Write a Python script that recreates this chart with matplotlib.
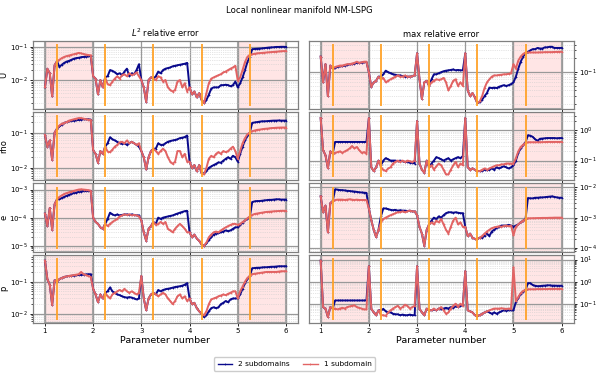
import numpy as np
import matplotlib
matplotlib.use("Agg")
import matplotlib.pyplot as plt
from matplotlib.lines import Line2D

N = None  # blue point hidden under the red one (same value)

# parameter number grid (5 sweeps, 20 samples each + end point)
param = np.linspace(1, 6, 101)
switch_params = [1.25, 2.25, 3.25, 4.25, 5.25]
shaded = [(1, 2), (5, 6)]
var_names = ["U", "rho", "e", "p"]
col_titles = ["$L^2$ relative error", "max relative error"]

# ---- L2 relative error ----
u_l2_one = [0.006, 0.022, 0.016, 0.0032, 0.028, 0.037, 0.041, 0.046, 0.050, 0.053, 0.055, 0.058, 0.060, 0.063, 0.066, 0.064, 0.061, 0.059, 0.057, 0.056,
            0.013, 0.011, 0.0037, 0.010, 0.006, 0.012, 0.0075, 0.007, 0.009, 0.011, 0.013, 0.011, 0.014, 0.015, 0.013, 0.016, 0.014, 0.015, 0.017, 0.013,
            0.010, 0.006, 0.0022, 0.010, 0.012, 0.011, 0.010, 0.013, 0.012, 0.009, 0.010, 0.006, 0.005, 0.0045, 0.005, 0.009, 0.010, 0.006, 0.008, 0.0045,
            0.006, 0.0037, 0.0045, 0.003, 0.004, 0.0025, 0.002, 0.004, 0.008, 0.011, 0.012, 0.013, 0.014, 0.015, 0.017, 0.018, 0.020, 0.022, 0.024, 0.027,
            0.0096, 0.012, 0.020, 0.035, 0.050, 0.058, 0.060, 0.062, 0.064, 0.065, 0.066, 0.067, 0.068, 0.069, 0.070, 0.071, 0.072, 0.073, 0.074, 0.075, 0.075]
u_l2_two = [N, N, N, N, N, N, 0.025, 0.029, 0.033, 0.036, 0.038, 0.041, 0.044, 0.046, 0.047, 0.049, 0.050, 0.051, 0.052, 0.053,
            N, N, N, N, N, 0.012, 0.013, 0.020, 0.019, 0.017, 0.015, 0.016, 0.014, 0.018, 0.022, 0.013, 0.016, 0.015, 0.020, 0.030,
            N, N, N, N, N, N, 0.013, 0.018, 0.016, 0.020, 0.022, 0.023, 0.024, 0.026, 0.027, 0.028, 0.029, 0.030, 0.031, 0.033,
            N, N, N, N, N, N, 0.002, 0.0025, 0.0036, 0.0055, 0.006, 0.006, 0.006, 0.007, 0.007, 0.0072, 0.007, 0.0065, 0.007, 0.009,
            0.006, 0.008, 0.012, 0.020, 0.035, 0.050, 0.085, 0.087, 0.088, 0.089, 0.090, 0.092, 0.094, 0.096, 0.097, 0.098, 0.100, 0.100, 0.101, 0.101, 0.100]

rho_l2_one = [0.087, 0.04, 0.06, 0.017, 0.10, 0.13, 0.16, 0.18, 0.19, 0.20, 0.22, 0.23, 0.24, 0.25, 0.26, 0.26, 0.25, 0.24, 0.235, 0.23,
              0.032, 0.025, 0.014, 0.030, 0.025, 0.040, 0.029, 0.028, 0.033, 0.040, 0.045, 0.053, 0.055, 0.050, 0.060, 0.050, 0.055, 0.050, 0.045, 0.050,
              0.030, 0.020, 0.009, 0.020, 0.030, 0.035, 0.030, 0.025, 0.030, 0.035, 0.030, 0.020, 0.015, 0.013, 0.015, 0.030, 0.030, 0.020, 0.025, 0.015,
              0.015, 0.010, 0.012, 0.008, 0.012, 0.007, 0.0065, 0.010, 0.018, 0.022, 0.020, 0.025, 0.028, 0.025, 0.030, 0.028, 0.030, 0.035, 0.040, 0.030,
              0.018, 0.030, 0.050, 0.070, 0.090, 0.100, 0.110, 0.115, 0.120, 0.122, 0.125, 0.128, 0.130, 0.132, 0.135, 0.136, 0.138, 0.139, 0.140, 0.140, 0.140]
rho_l2_two = [N, N, N, N, N, N, 0.15, 0.17, 0.19, 0.20, 0.21, 0.215, 0.22, 0.225, 0.23, 0.235, 0.24, 0.24, 0.24, 0.235,
              N, N, N, N, N, 0.040, 0.050, 0.074, 0.065, 0.060, 0.055, 0.050, 0.048, 0.050, 0.045, 0.050, 0.055, 0.050, 0.045, 0.040,
              N, N, N, N, N, N, 0.035, 0.050, 0.045, 0.045, 0.050, 0.055, 0.058, 0.060, 0.062, 0.065, 0.070, 0.072, 0.075, 0.083,
              N, N, N, N, N, N, 0.007, 0.008, 0.010, 0.011, 0.012, 0.013, 0.0143, 0.014, 0.016, 0.018, 0.020, 0.018, 0.022, 0.020,
              0.015, 0.025, 0.040, 0.060, 0.080, 0.100, 0.190, 0.195, 0.200, 0.205, 0.210, 0.210, 0.212, 0.215, 0.218, 0.220, 0.220, 0.222, 0.220, 0.220, 0.220]

e_l2_one = [1.4e-4, 5e-5, 2.2e-4, 3.7e-5, 3.0e-4, 4.5e-4, 5.5e-4, 6.2e-4, 7.0e-4, 7.5e-4, 8.0e-4, 8.5e-4, 9.0e-4, 9.5e-4, 1.0e-3, 1.02e-3, 1.0e-3, 9.8e-4, 9.5e-4, 9.0e-4,
            1.0e-4, 7e-5, 6e-5, 4.5e-5, 4e-5, 6e-5, 5e-5, 6e-5, 7e-5, 8e-5, 9e-5, 1.1e-4, 1.2e-4, 1.3e-4, 1.25e-4, 1.3e-4, 1.2e-4, 1.25e-4, 1.2e-4, 1.1e-4,
            8e-5, 3e-5, 1.5e-5, 4e-5, 5e-5, 7e-5, 5.5e-5, 6e-5, 7e-5, 6e-5, 7e-5, 4e-5, 3.5e-5, 3e-5, 4e-5, 5e-5, 6e-5, 5e-5, 4e-5, 3e-5,
            3e-5, 2e-5, 2.5e-5, 1.8e-5, 1.5e-5, 1.1e-5, 1.0e-5, 1.3e-5, 2e-5, 2.5e-5, 3e-5, 3.2e-5, 3e-5, 3.5e-5, 4e-5, 4.5e-5, 5e-5, 5.5e-5, 6e-5, 6e-5,
            5.5e-5, 6e-5, 7e-5, 8e-5, 9.5e-5, 1.1e-4, 1.25e-4, 1.35e-4, 1.4e-4, 1.45e-4, 1.5e-4, 1.55e-4, 1.6e-4, 1.62e-4, 1.65e-4, 1.68e-4, 1.7e-4, 1.72e-4, 1.75e-4, 1.75e-4, 1.75e-4]
e_l2_two = [N, N, N, N, N, N, 4.5e-4, 5e-4, 5.5e-4, 6e-4, 6.5e-4, 7e-4, 7.5e-4, 7.8e-4, 8.2e-4, 8.5e-4, 8.8e-4, 8.9e-4, 9e-4, 9e-4,
            N, N, N, N, N, 6e-5, 9e-5, 1.5e-4, 1.3e-4, 1.2e-4, 1.3e-4, 1.2e-4, 1.25e-4, 1.3e-4, 1.3e-4, 1.25e-4, 1.3e-4, 1.25e-4, 1.2e-4, 1.2e-4,
            N, N, N, N, N, N, 6e-5, 1e-4, 9e-5, 1e-4, 1.05e-4, 1.1e-4, 1.15e-4, 1.2e-4, 1.3e-4, 1.4e-4, 1.5e-4, 1.6e-4, 1.7e-4, 1.75e-4,
            N, N, N, N, N, N, 1e-5, 1.2e-5, 1.6e-5, 2e-5, 2.5e-5, 2.7e-5, 2.8e-5, 3e-5, 3.2e-5, 3.5e-5, 3.3e-5, 3.5e-5, 4e-5, 4.5e-5,
            4.5e-5, 5.5e-5, 6.5e-5, 8e-5, 9e-5, 1.05e-4, 3.6e-4, 3.8e-4, 3.9e-4, 3.9e-4, 4e-4, 4.1e-4, 4.2e-4, 4.3e-4, 4.3e-4, 4.4e-4, 4.5e-4, 4.5e-4, 4.4e-4, 4.4e-4, 4.4e-4]

p_l2_one = [0.45, 0.12, 0.08, 0.019, 0.11, 0.10, 0.12, 0.13, 0.14, 0.145, 0.15, 0.155, 0.16, 0.165, 0.17, 0.20, 0.17, 0.16, 0.15, 0.14,
            0.06, 0.04, 0.023, 0.04, 0.03, 0.045, 0.035, 0.03, 0.04, 0.045, 0.05, 0.055, 0.05, 0.06, 0.05, 0.045, 0.05, 0.045, 0.04, 0.045,
            0.15, 0.03, 0.013, 0.03, 0.04, 0.045, 0.04, 0.035, 0.04, 0.045, 0.04, 0.03, 0.025, 0.02, 0.025, 0.035, 0.04, 0.03, 0.035, 0.025,
            0.03, 0.02, 0.022, 0.015, 0.012, 0.01, 0.009, 0.012, 0.02, 0.028, 0.03, 0.032, 0.035, 0.037, 0.04, 0.038, 0.042, 0.045, 0.05, 0.05,
            0.03, 0.05, 0.07, 0.10, 0.13, 0.15, 0.17, 0.175, 0.18, 0.185, 0.19, 0.195, 0.20, 0.20, 0.20, 0.20, 0.20, 0.205, 0.21, 0.21, 0.21]
p_l2_two = [N, N, N, N, N, N, 0.12, 0.13, 0.14, 0.145, 0.15, 0.152, 0.155, 0.158, 0.16, 0.162, 0.165, 0.167, 0.17, 0.17,
            N, N, N, N, N, 0.045, 0.05, 0.066, 0.05, 0.045, 0.04, 0.038, 0.035, 0.033, 0.032, 0.033, 0.032, 0.03, 0.028, 0.03,
            N, N, N, N, N, N, 0.04, 0.055, 0.05, 0.055, 0.058, 0.06, 0.062, 0.065, 0.068, 0.07, 0.072, 0.075, 0.08, 0.09,
            N, N, N, N, N, N, 0.008, 0.009, 0.012, 0.015, 0.016, 0.015, 0.016, 0.02, 0.022, 0.025, 0.023, 0.028, 0.03, 0.03,
            0.03, 0.04, 0.06, 0.09, 0.12, 0.15, 0.26, 0.265, 0.27, 0.27, 0.275, 0.28, 0.28, 0.285, 0.29, 0.29, 0.295, 0.30, 0.30, 0.30, 0.30]

# ---- max relative error ----
u_max_one = [0.22, 0.06, 0.15, 0.03, 0.14, 0.12, 0.13, 0.135, 0.14, 0.14, 0.145, 0.15, 0.15, 0.155, 0.16, 0.17, 0.16, 0.165, 0.17, 0.17,
             0.10, 0.048, 0.06, 0.065, 0.08, 0.07, 0.075, 0.06, 0.065, 0.07, 0.075, 0.08, 0.085, 0.08, 0.08, 0.085, 0.08, 0.08, 0.082, 0.085,
             0.26, 0.07, 0.026, 0.06, 0.065, 0.05, 0.06, 0.065, 0.07, 0.068, 0.07, 0.075, 0.06, 0.04, 0.05, 0.065, 0.07, 0.05, 0.06, 0.05,
             0.26, 0.04, 0.03, 0.035, 0.028, 0.021, 0.023, 0.03, 0.045, 0.06, 0.07, 0.08, 0.085, 0.085, 0.087, 0.088, 0.09, 0.09, 0.092, 0.095,
             0.15, 0.12, 0.18, 0.22, 0.25, 0.27, 0.27, 0.27, 0.27, 0.27, 0.27, 0.272, 0.272, 0.275, 0.275, 0.275, 0.275, 0.278, 0.278, 0.28, 0.28]
u_max_two = [N, N, N, N, N, N, 0.125, 0.13, 0.135, 0.135, 0.14, 0.145, 0.148, 0.15, 0.155, 0.16, 0.16, 0.162, 0.165, 0.168,
             N, N, N, N, N, 0.08, 0.09, 0.108, 0.10, 0.095, 0.09, 0.088, 0.085, 0.085, 0.082, 0.08, 0.08, 0.08, 0.082, 0.085,
             N, N, N, N, N, N, 0.07, 0.09, 0.09, 0.095, 0.10, 0.105, 0.108, 0.11, 0.112, 0.115, 0.11, 0.112, 0.11, 0.11,
             N, N, N, N, N, N, 0.022, 0.025, 0.03, 0.035, 0.046, 0.045, 0.046, 0.045, 0.048, 0.05, 0.052, 0.05, 0.052, 0.055,
             0.06, 0.08, 0.12, 0.17, 0.22, 0.26, 0.28, 0.30, 0.32, 0.32, 0.34, 0.33, 0.33, 0.35, 0.35, 0.36, 0.36, 0.34, 0.34, 0.34, 0.34]

rho_max_one = [2.5, 0.22, 0.15, 0.056, 0.2, 0.17, 0.18, 0.19, 0.2, 0.18, 0.2, 0.22, 0.25, 0.3, 0.25, 0.28, 0.22, 0.18, 0.19, 0.17,
               2.5, 0.06, 0.045, 0.06, 0.1, 0.06, 0.05, 0.045, 0.055, 0.06, 0.08, 0.09, 0.1, 0.09, 0.1, 0.09, 0.1, 0.095, 0.09, 0.1,
               2.0, 0.08, 0.05, 0.04, 0.1, 0.06, 0.07, 0.05, 0.065, 0.08, 0.07, 0.05, 0.035, 0.035, 0.05, 0.07, 0.09, 0.06, 0.08, 0.07,
               2.5, 0.06, 0.05, 0.055, 0.05, 0.045, 0.045, 0.05, 0.055, 0.05, 0.055, 0.06, 0.065, 0.07, 0.07, 0.075, 0.075, 0.08, 0.08, 0.08,
               0.08, 0.12, 0.2, 0.28, 0.33, 0.38, 0.4, 0.4, 0.4, 0.4, 0.4, 0.4, 0.405, 0.405, 0.41, 0.41, 0.41, 0.41, 0.41, 0.41, 0.41]
rho_max_two = [N, N, N, N, N, N, 0.41, 0.41, 0.41, 0.41, 0.41, 0.41, 0.41, 0.41, 0.41, 0.41, 0.41, 0.41, 0.41, 0.41,
               N, N, N, N, N, 0.07, 0.1, 0.12, 0.11, 0.1, 0.1, 0.1, 0.095, 0.1, 0.095, 0.09, 0.09, 0.085, 0.085, 0.08,
               N, N, N, N, N, N, 0.08, 0.1, 0.13, 0.12, 0.11, 0.1, 0.11, 0.12, 0.1, 0.11, 0.12, 0.13, 0.12, 0.14,
               N, N, N, N, N, N, 0.045, 0.045, 0.05, 0.048, 0.05, 0.055, 0.05, 0.06, 0.055, 0.06, 0.065, 0.06, 0.055, 0.06,
               0.07, 0.1, 0.18, 0.25, 0.32, 0.4, 0.68, 0.66, 0.6, 0.5, 0.45, 0.52, 0.53, 0.54, 0.55, 0.55, 0.55, 0.55, 0.54, 0.55, 0.55]

e_max_one = [5e-3, 1.5e-3, 2.5e-3, 3.3e-4, 3e-3, 3.5e-3, 3.8e-3, 3.9e-3, 3.9e-3, 3.9e-3, 3.8e-3, 3.9e-3, 4e-3, 3.9e-3, 3.8e-3, 3.9e-3, 3.8e-3, 3.8e-3, 3.8e-3, 3.8e-3,
             2e-3, 8.3e-4, 4e-4, 2.3e-4, 4e-4, 7e-4, 9e-4, 1e-3, 1.1e-3, 1.2e-3, 1.3e-3, 1.4e-3, 1.5e-3, 1.5e-3, 1.6e-3, 1.5e-3, 1.6e-3, 1.7e-3, 1.6e-3, 1.6e-3,
             1.2e-3, 5e-4, 3e-4, 1.2e-4, 4e-4, 6e-4, 7e-4, 6e-4, 8e-4, 7e-4, 9e-4, 6e-4, 4e-4, 3e-4, 5e-4, 8e-4, 1e-3, 6e-4, 7e-4, 5e-4,
             5e-4, 2.5e-4, 3e-4, 2.2e-4, 2e-4, 2e-4, 2.2e-4, 2.5e-4, 3e-4, 3.5e-4, 4e-4, 4.5e-4, 4.8e-4, 5e-4, 5.2e-4, 5e-4, 5.3e-4, 5.5e-4, 5.2e-4, 5.5e-4,
             2.6e-4, 5e-4, 6e-4, 7e-4, 8e-4, 9e-4, 9.5e-4, 9.5e-4, 9.6e-4, 9.6e-4, 9.7e-4, 9.7e-4, 9.8e-4, 9.8e-4, 9.8e-4, 9.9e-4, 9.9e-4, 1e-3, 1e-3, 1e-3, 1e-3]
e_max_two = [N, N, N, N, N, N, 8.5e-3, 8.3e-3, 8e-3, 8e-3, 7.8e-3, 7.6e-3, 7.5e-3, 7.3e-3, 7.2e-3, 7e-3, 6.8e-3, 6.7e-3, 6.6e-3, 6.5e-3,
             N, N, N, N, N, 1.1e-3, 2e-3, 2e-3, 1.9e-3, 1.8e-3, 1.75e-3, 1.8e-3, 1.7e-3, 1.75e-3, 1.7e-3, 1.7e-3, 1.65e-3, 1.7e-3, 1.6e-3, 1.6e-3,
             N, N, N, N, N, N, 8e-4, 1e-3, 9e-4, 1.1e-3, 1e-3, 1.2e-3, 1.4e-3, 1.5e-3, 1.5e-3, 1.45e-3, 1.5e-3, 1.45e-3, 1.4e-3, 1.4e-3,
             N, N, N, N, N, N, 2.2e-4, 2.2e-4, 2.5e-4, 3e-4, 2.5e-4, 3.5e-4, 4e-4, 4.5e-4, 5e-4, 5.5e-4, 5.5e-4, 5.5e-4, 5.8e-4, 5.5e-4,
             5e-4, 5.5e-4, 6e-4, 7e-4, 8e-4, 9e-4, 4.4e-3, 4.3e-3, 4.3e-3, 4.5e-3, 4.5e-3, 4.6e-3, 4.6e-3, 4.7e-3, 4.8e-3, 4.9e-3, 5e-3, 4.8e-3, 4.6e-3, 4.5e-3, 4.5e-3]

p_max_one = [9.0, 0.07, 0.06, 0.025, 0.07, 0.06, 0.06, 0.055, 0.06, 0.065, 0.06, 0.07, 0.075, 0.08, 0.085, 0.07, 0.065, 0.06, 0.055, 0.055,
             5.0, 0.06, 0.04, 0.03, 0.05, 0.03, 0.03, 0.028, 0.04, 0.05, 0.06, 0.07, 0.08, 0.06, 0.07, 0.09, 0.08, 0.06, 0.07, 0.08,
             5.0, 0.06, 0.04, 0.03, 0.06, 0.05, 0.05, 0.06, 0.05, 0.06, 0.07, 0.05, 0.035, 0.04, 0.06, 0.08, 0.1, 0.07, 0.1, 0.08,
             3.0, 0.05, 0.045, 0.04, 0.03, 0.028, 0.03, 0.035, 0.04, 0.045, 0.05, 0.055, 0.06, 0.06, 0.06, 0.062, 0.06, 0.058, 0.06, 0.06,
             4.5, 0.13, 0.2, 0.3, 0.38, 0.42, 0.45, 0.45, 0.45, 0.45, 0.46, 0.46, 0.46, 0.46, 0.46, 0.47, 0.47, 0.47, 0.47, 0.47, 0.47]
p_max_two = [N, N, N, N, N, N, 0.14, 0.14, 0.14, 0.14, 0.14, 0.14, 0.14, 0.14, 0.14, 0.14, 0.14, 0.14, 0.14, 0.14,
             N, N, N, N, N, 0.05, 0.058, 0.045, 0.04, 0.04, 0.035, 0.033, 0.033, 0.03, 0.032, 0.03, 0.03, 0.032, 0.03, 0.03,
             N, N, N, N, N, N, 0.05, 0.055, 0.05, 0.06, 0.055, 0.06, 0.065, 0.06, 0.07, 0.065, 0.075, 0.07, 0.08, 0.085,
             N, N, N, N, N, N, 0.03, 0.035, 0.04, 0.045, 0.04, 0.035, 0.04, 0.035, 0.04, 0.045, 0.05, 0.048, 0.05, 0.05,
             0.05, 0.12, 0.18, 0.28, 0.35, 0.42, 0.85, 0.85, 0.7, 0.65, 0.62, 0.63, 0.65, 0.66, 0.68, 0.68, 0.66, 0.66, 0.65, 0.65, 0.65]

l2_one = [u_l2_one, rho_l2_one, e_l2_one, p_l2_one]
l2_two = [u_l2_two, rho_l2_two, e_l2_two, p_l2_two]
max_one = [u_max_one, rho_max_one, e_max_one, p_max_one]
max_two = [u_max_two, rho_max_two, e_max_two, p_max_two]

blue = "#0a0a8c"
red = "#e26464"

fig, axes = plt.subplots(4, 2, figsize=(5.98, 3.75), dpi=100, sharex=True)
fig.subplots_adjust(left=0.055, right=0.9594, top=0.891, bottom=0.139, wspace=0.04, hspace=0.045)

for col, (ones, twos) in enumerate([(l2_one, l2_two), (max_one, max_two)]):
    for row in range(4):
        ax = axes[row, col]
        one = np.array(ones[row], dtype=float)
        two = np.array(twos[row], dtype=float)
        two = np.where(np.isnan(two), one, two)
        ax.set_yscale("log")
        for a, b in shaded:
            ax.axvspan(a, b, facecolor=(1, 0, 0, 0.1), edgecolor="0.65", lw=1.5, zorder=0)
        ax.plot(param, two, color=blue, lw=1.4, marker="+", ms=1.5, mew=0.5, zorder=3)
        ax.plot(param, one, color=red, lw=1.4, marker="+", ms=1.5, mew=0.5, zorder=4)
        # orange switch lines span the padded data range, then pad once more
        lo, hi = ax.get_ylim()
        ax.vlines(switch_params, lo, hi, colors="#ffa229", lw=1.3, zorder=5)
        pad = (hi / lo) ** 0.05
        ax.set_ylim(lo / pad, hi * pad)
        ax.grid(True, which="major", color="0.6", lw=0.9)
        ax.grid(True, which="minor", color="0.8", lw=0.5, ls=":")
        ax.set_xticks([1, 2, 3, 4, 5, 6])
        ax.tick_params(labelsize=5, length=2.5, width=0.6, pad=1.5)
        ax.tick_params(which="minor", length=1.5, width=0.5)
        for s in ax.spines.values():
            s.set_color("0.5")
            s.set_linewidth(0.9)
        if col == 0:
            ax.set_ylabel(var_names[row], fontsize=6, labelpad=1)
        else:
            ax.yaxis.tick_right()
        if row == 0:
            ax.set_title(col_titles[col], fontsize=6, pad=3)
        if row == 3:
            ax.set_xlabel("Parameter number", fontsize=6.8, labelpad=1)

fig.suptitle("Local nonlinear manifold NM-LSPG", fontsize=6.1, y=0.985)

handles = [Line2D([], [], color=blue, lw=1.0, marker="+", ms=2, mew=0.5),
           Line2D([], [], color=red, lw=1.0, marker="+", ms=2, mew=0.5)]
fig.legend(handles, ["2 subdomains", "1 subdomain"], loc="center",
           bbox_to_anchor=(0.4925, 0.029), ncol=2, fontsize=5.3,
           handlelength=2.0, columnspacing=1.8, borderpad=0.5, framealpha=1)

fig.savefig("out.png", dpi=100)
